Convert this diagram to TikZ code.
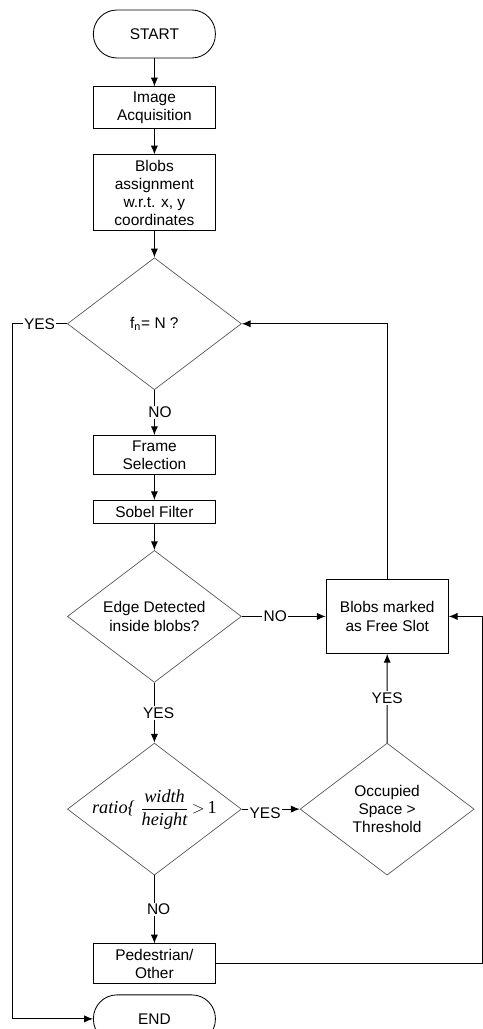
\documentclass[tikz,border=0pt]{standalone}
\usepackage{amsmath}
\usepackage{fontspec}
\setmainfont{Liberation Sans}
\newfontfamily\ratiofont{Liberation Serif}
\usetikzlibrary{arrows.meta,positioning,shapes.geometric}

\begin{document}
\begin{tikzpicture}[
  font=\fontsize{11}{13}\selectfont,
  node distance=0.65cm and 2.1cm,
  termbox/.style={draw, rounded corners=0.59cm, align=center, minimum width=3.05cm, minimum height=1.2cm, line width=0.6pt},
  procbox/.style={draw, align=center, minimum width=3.03cm, inner ysep=1pt, line width=0.7pt},
  decision/.style={draw=black!65, diamond, align=center, minimum width=4.35cm, minimum height=3.3cm, inner sep=0pt, line width=0.5pt},
  arrow/.style={-{Latex[length=2.2mm,width=1.8mm]}, line width=0.7pt},
  lbl/.style={fill=white, inner sep=1pt}
]
\clip (0,0) rectangle (12.075,-25.725);
\coordinate (lside) at (0.3,0);
\coordinate (rside) at (12.06,0);
% main column
\node[termbox] (start) at (3.86,-0.85) {START};
\node[procbox, minimum height=1.05cm, below=0.7cm of start] (acq) {Image\\Acquisition};
\node[procbox, minimum height=1.9cm, below=0.625cm of acq] (blobs) {Blobs\\assignment\\w.r.t. x, y\\coordinates};
\node[decision, below=of blobs] (frames) {f\textsubscript{n}= N ?};
\node[procbox, minimum height=0.975cm, below=1.125cm of frames] (select) {Frame\\Selection};
\node[procbox, minimum height=0.575cm, below=0.625cm of select] (sobel) {Sobel Filter};
\node[decision, below=of sobel] (edge) {Edge Detected\\inside blobs?};
\node[decision, below=1.5cm of edge] (ratio) {\makebox[0pt]{\fontsize{13}{15}\selectfont\ratiofont\itshape ratio\{\;$\dfrac{\text{\ratiofont\itshape width}}{\text{\ratiofont\itshape height}}\,{>}\,\text{\ratiofont\upshape 1}$}};
\node[procbox, minimum height=1.0cm, below=1.7cm of ratio] (ped) {Pedestrian/\\Other};
\node[termbox, below=0.25cm of ped] (end) {END};
% right column
\node[procbox, minimum width=3.05cm, minimum height=1.85cm, right=of edge] (slot) {Blobs marked\\as Free Slot};
\node[decision, right=1.45cm of ratio] (occ) {Occupied\\Space >\\Threshold};

\draw[arrow] (start) -- (acq);
\draw[arrow] (acq) -- (blobs);
\draw[arrow] (blobs) -- (frames);
\draw[arrow] (frames) -- node[lbl, xshift=4pt] {NO} (select);
\draw[arrow] (select) -- (sobel);
\draw[arrow] (sobel) -- (edge);
\draw[arrow] (edge) -- node[lbl, xshift=-6pt] {NO} (slot);
\draw[arrow] (edge) -- node[lbl, xshift=3pt] {YES} (ratio);
\draw[arrow] (ratio) -- node[lbl, yshift=-3pt, xshift=-4pt] {YES} (occ);
\draw[arrow] (occ) -- node[lbl] {YES} (slot);
\draw[arrow] (ratio) -- node[lbl, xshift=3pt] {NO} (ped);
\draw[arrow] (slot.north) |- (frames.east);
\draw[arrow] (ped.east) -- (ped.east -| rside) |- (slot.east);
\draw[arrow] (frames.west) -- node[lbl] {YES} (frames.west -| lside) |- (end.west);
\end{tikzpicture}
\end{document}
